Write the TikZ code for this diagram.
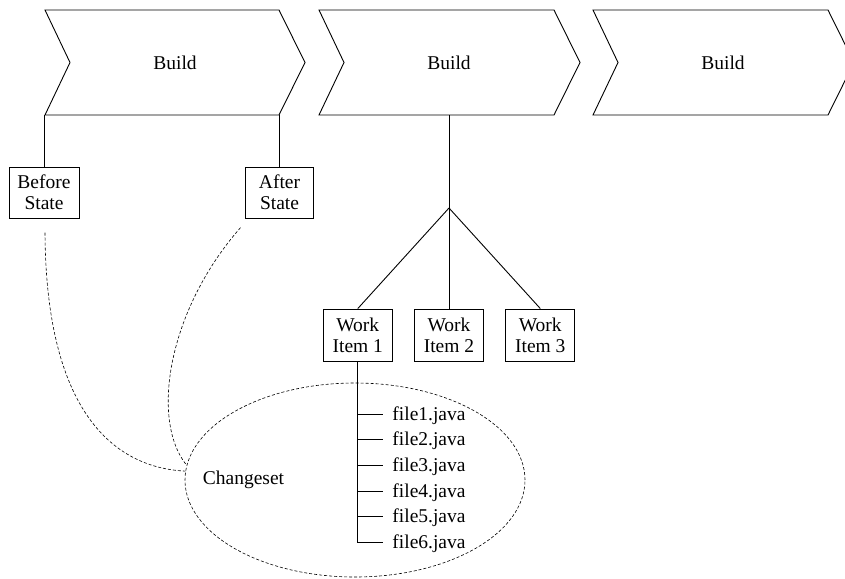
\documentclass[tikz,border=0pt]{standalone}
\usepackage{fontspec}
\setmainfont{Liberation Serif}
\usetikzlibrary{shapes.geometric}
\begin{document}
\begin{tikzpicture}[x=1pt,y=-1pt,
  line width=0.9pt,
  every node/.style={font=\fontsize{19.5}{21}\selectfont},
  chevron/.style={draw, line join=miter},
  stagebox/.style={draw, rectangle, align=center, inner sep=0pt, minimum height=51pt},
  itembox/.style={draw, rectangle, align=center, inner sep=0pt, minimum width=69pt, minimum height=52pt},
  link/.style={draw},
  trace/.style={draw, line width=0.6pt, dash pattern=on 3pt off 2pt},
  filename/.style={anchor=base west, inner sep=0pt}]
\useasboundingbox (0,0) rectangle (845,578);
\clip (0,0) rectangle (845,578);

% build stages
\draw[chevron] (45,10) -- (279,10) -- (305,62.5) -- (279,115) -- (45,115) -- (70,62.5) -- cycle;
\draw[chevron] (319,10) -- (554,10) -- (580,62.5) -- (554,115) -- (319,115) -- (344,62.5) -- cycle;
\draw[chevron] (593,10) -- (828,10) -- (854,62.5) -- (828,115) -- (593,115) -- (618,62.5) -- cycle;
\node (b1) at (175,62.5) {Build};
\node (b2) at (449,62.5) {Build};
\node (b3) at (723,62.5) {Build};
\coordinate (b1l) at (44,115);
\coordinate (b1r) at (279.5,115);
\coordinate (b2m) at (449,115);

% states of the first build
\node[stagebox, minimum width=70pt] (before) at (44,192.7) {Before\\State};
\node[stagebox, minimum width=68pt] (after) at (279.5,192.7) {After\\State};
\draw[link] (b1l) -- (before.north);
\draw[link] (b1r) -- (after.north);

% work items of the second build
\coordinate (fork) at (449,208);
\node[itembox] (w1) at (357.8,335) {Work\\Item 1};
\node[itembox] (w2) at (449,335) {Work\\Item 2};
\node[itembox] (w3) at (540.3,335) {Work\\Item 3};
\draw[link] (b2m) -- (fork);
\draw[link] (fork) -- (w1.north);
\draw[link] (fork) -- (w2.north);
\draw[link] (fork) -- (w3.north);

% changeset
\node[ellipse, trace, minimum width=340pt, minimum height=194pt, inner sep=0pt] (cs) at (355,480) {};
\node[anchor=base] (cslabel) at (243.5,484) {Changeset};
\path (before.south) ++(1,14) coordinate (beforetail);
\path (after.south) ++(-39,9) coordinate (aftertail);
\draw[trace] (beforetail) .. controls (46,420) and (120,468) .. (cs.177);
\draw[trace] (aftertail) .. controls (168,310) and (150,420) .. (cs.175);

% files of work item 1
\coordinate (f6) at (357.8,542.7);
\draw[link] (w1.south) -- (f6);
\foreach \i/\y in {1/414, 2/439.7, 3/465.4, 4/491.1, 5/516.8, 6/542.5} {
  \coordinate (br\i) at (357.8,\y);
  \coordinate (tip\i) at (383.3,\y);
  \draw[link] (br\i) -- (tip\i);
  \node[filename] (file\i) at (392,\y+6) {file\i.java};
}
\end{tikzpicture}
\end{document}
